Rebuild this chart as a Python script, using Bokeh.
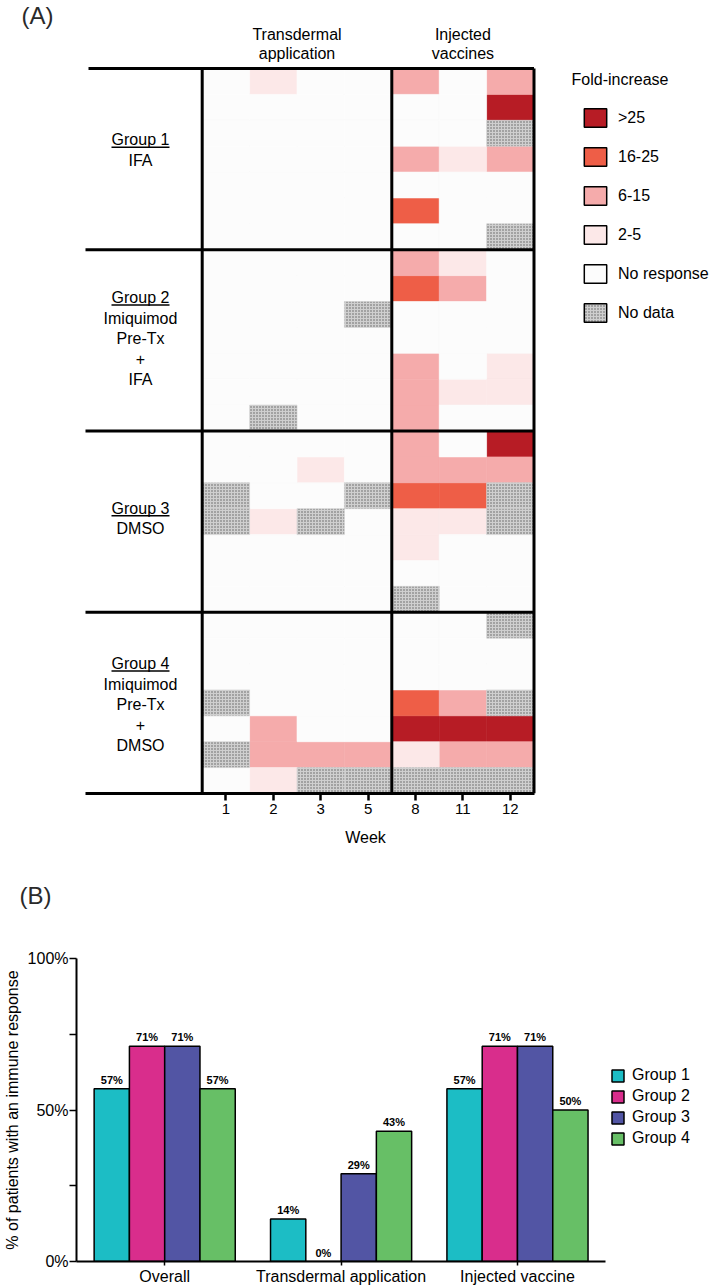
from bokeh.plotting import figure
from bokeh.models import (ColumnDataSource, Range1d, FixedTicker, LinearAxis,
                          Legend, LegendItem)
from bokeh.layouts import column
from bokeh.embed import file_html
from bokeh.resources import INLINE
from bokeh.core.properties import value
from bokeh.transform import dodge

FONT = "Liberation Sans"

# ---------------------------------------------------------------- data (A)
weeks = ["1", "2", "3", "5", "8", "11", "12"]
section_titles = [["Transdermal", "application"], ["Injected", "vaccines"]]
section_cols = [(0, 4), (4, 7)]          # column index spans of the two sections
levels = [">25", "16-25", "6-15", "2-5", "No response", "No data"]
level_colors = ["#B71C25", "#EE5E47", "#F5ABAB", "#FCE8E8", "#FCFCFC", "#CFCFCF"]
level_codes = [4, 3, 2, 1, 0, -1]        # -1 = no data
group_names = ["Group 1", "Group 2", "Group 3", "Group 4"]
group_treatments = [["IFA"],
                    ["Imiquimod", "Pre-Tx", "+", "IFA"],
                    ["DMSO"],
                    ["Imiquimod", "Pre-Tx", "+", "DMSO"]]

group1 = [[0, 1, 0, 0, 2, 0, 2],
          [0, 0, 0, 0, 0, 0, 4],
          [0, 0, 0, 0, 0, 0, -1],
          [0, 0, 0, 0, 2, 1, 2],
          [0, 0, 0, 0, 0, 0, 0],
          [0, 0, 0, 0, 3, 0, 0],
          [0, 0, 0, 0, 0, 0, -1]]
group2 = [[0, 0, 0, 0, 2, 1, 0],
          [0, 0, 0, 0, 3, 2, 0],
          [0, 0, 0, -1, 0, 0, 0],
          [0, 0, 0, 0, 0, 0, 0],
          [0, 0, 0, 0, 2, 0, 1],
          [0, 0, 0, 0, 2, 1, 1],
          [0, -1, 0, 0, 2, 0, 0]]
group3 = [[0, 0, 0, 0, 2, 0, 4],
          [0, 0, 1, 0, 2, 2, 2],
          [-1, 0, 0, -1, 3, 3, -1],
          [-1, 1, -1, 0, 1, 1, -1],
          [0, 0, 0, 0, 1, 0, 0],
          [0, 0, 0, 0, 0, 0, 0],
          [0, 0, 0, 0, -1, 0, 0]]
group4 = [[0, 0, 0, 0, 0, 0, -1],
          [0, 0, 0, 0, 0, 0, 0],
          [0, 0, 0, 0, 0, 0, 0],
          [-1, 0, 0, 0, 3, 2, -1],
          [0, 2, 0, 0, 4, 4, 4],
          [-1, 2, 2, 2, 1, 2, 2],
          [0, 1, -1, -1, -1, -1, -1]]
groups = [group1, group2, group3, group4]

# ---------------------------------------------------------------- data (B)
categories = ["Overall", "Transdermal application", "Injected vaccine"]
bar_groups = ["Group 1", "Group 2", "Group 3", "Group 4"]
bar_colors = ["#1CBDC5", "#D92D8C", "#5255A4", "#67BF66"]
pct_group1 = [57, 14, 57]
pct_group2 = [71, 0, 71]
pct_group3 = [71, 29, 71]
pct_group4 = [57, 43, 50]
pct_values = [pct_group1, pct_group2, pct_group3, pct_group4]
y_ticks = [0, 25, 50, 75, 100]
y_tick_labels = ["0%", "", "50%", "", "100%"]

# ================================================================ panel A
W = 710
HA = 856
FA_LEFT = 20                     # frame left (page px)
X0, Y0 = 201.7, 793.0            # page px of the heat-map bottom-left corner
COL_W = 47.4
n_rows = sum(len(g) for g in groups)
ROW_H = (Y0 - 68.0) / n_rows


def dx(px):
    return 0.5 + (px - X0) / COL_W


def dy(py):
    return (Y0 - py) / ROW_H


pA = figure(width=W, height=HA, output_backend="svg", toolbar_location=None,
            x_range=Range1d(dx(FA_LEFT), dx(W)), y_range=Range1d(0, dy(0)),
            x_axis_type=None, y_axis_type=None,
            min_border_left=FA_LEFT, min_border_right=0, min_border_top=0,
            min_border_bottom=HA - int(Y0))
pA.grid.visible = False
pA.outline_line_color = None

code_to_level = dict(zip(level_codes, levels))
cx, cy, clev = [], [], []
r_i = 0
for g in groups:
    for row in g:
        for c, v in enumerate(row):
            cx.append(c + 1)
            cy.append(n_rows - r_i - 0.5)
            clev.append(code_to_level[v])
        r_i += 1

legend_items = []
sources = []
for lev, col in zip(levels, level_colors):
    sel = [i for i, l in enumerate(clev) if l == lev]
    src = ColumnDataSource(dict(x=[cx[i] for i in sel], y=[cy[i] for i in sel]))
    sources.append(src)
    hatch = dict(hatch_pattern=".", hatch_color="#5e5e5e", hatch_scale=3,
                 hatch_weight=1.0) if lev == "No data" else {}
    # framed swatch for the legend, drawn small and hidden under the cells
    sw = pA.rect(x="x", y="y", width=0.4, height=0.4, source=src,
                 fill_color=col, line_color="black", line_width=1.5, **hatch)
    legend_items.append(LegendItem(label=lev, renderers=[sw]))

for lev, col, src in zip(levels, level_colors, sources):
    hatch = dict(hatch_pattern=".", hatch_color="#5e5e5e", hatch_scale=3,
                 hatch_weight=1.0) if lev == "No data" else {}
    pA.rect(x="x", y="y", width=1, height=1, source=src, fill_color=col,
            line_color=col, line_width=0.6, **hatch)

# structure lines
rows_per = [len(g) for g in groups]
h_y = []
acc = n_rows
for n in rows_per:
    h_y.append(acc)
    acc -= n
h_x0 = [dx(88)] + [dx(85)] * (len(h_y) - 1)
pA.segment(x0=h_x0, y0=h_y, x1=[len(weeks) + 0.5] * len(h_y), y1=h_y,
           line_color="black", line_width=3)
v_x = [section_cols[0][0] + 0.5, section_cols[1][0] + 0.5, section_cols[1][1] + 0.5]
pA.segment(x0=v_x, y0=[0] * 3, x1=v_x, y1=[n_rows] * 3,
           line_color="black", line_width=3)

# section titles
tx, ty, tt = [], [], []
for (a, b), lines in zip(section_cols, section_titles):
    for k, s in enumerate(lines):
        tx.append((a + b) / 2 + 0.5)
        ty.append(dy(34 + 19 * k))
        tt.append(s)
pA.text(x=tx, y=ty, text=tt, text_font=value(FONT), text_font_size="16px",
        text_align="center", text_baseline="middle", text_color="black")

# group labels
label_mid = [149.5, 338, 518, 704]
gx, gy, gt = [], [], []
ux0, ux1, uy = [], [], []
for name, treat, mid in zip(group_names, group_treatments, label_mid):
    lines = [name] + treat
    n = len(lines)
    for k, s in enumerate(lines):
        py = mid + (k - (n - 1) / 2) * 20.5
        gx.append(dx(140))
        gy.append(dy(py))
        gt.append(s)
        if k == 0:
            ux0.append(dx(140 - 29))
            ux1.append(dx(140 + 29))
            uy.append(dy(py + 7.5))
pA.text(x=gx, y=gy, text=gt, text_font=value(FONT), text_font_size="16px",
        text_align="center", text_baseline="middle", text_color="black")
pA.segment(x0=ux0, y0=uy, x1=ux1, y1=uy, line_color="black", line_width=1.3)

# panel letter + legend title
pA.text(x=[dx(21)], y=[dy(1)], text=["(A)"], text_font=value(FONT),
        text_font_size="24px", text_align="left", text_baseline="top",
        text_color="#2a2a2a")
pA.text(x=[dx(571)], y=[dy(79)], text=["Fold-increase"], text_font=value(FONT),
        text_font_size="16px", text_align="left", text_baseline="middle",
        text_color="black")

legA = Legend(items=legend_items, location=(581 - FA_LEFT, int(Y0) - 324),
              orientation="vertical",
              glyph_width=28, glyph_height=23, label_height=23, label_width=20,
              label_standoff=9, spacing=16, padding=0, margin=0,
              border_line_color=None, background_fill_alpha=0,
              label_text_font=FONT, label_text_font_size="16px",
              label_text_color="black", label_text_baseline="middle")
pA.add_layout(legA, "center")

xa = LinearAxis(ticker=FixedTicker(ticks=list(range(1, len(weeks) + 1))),
                major_label_overrides={i + 1: w for i, w in enumerate(weeks)},
                bounds=(dx(85), len(weeks) + 0.5),
                axis_line_width=3, axis_line_color="black",
                major_tick_in=0, major_tick_out=7, major_tick_line_width=2.5,
                major_tick_line_color="black",
                minor_tick_in=0, minor_tick_out=0,
                major_label_standoff=3, major_label_text_font=FONT,
                major_label_text_font_size="15px", major_label_text_color="black",
                axis_label="Week", axis_label_standoff=12,
                axis_label_text_font=FONT, axis_label_text_font_size="16px",
                axis_label_text_font_style="normal", axis_label_text_color="black")
pA.add_layout(xa, "below")

# ================================================================ "(B)" strip
HL = 60
pL = figure(width=W, height=HL, output_backend="svg", toolbar_location=None,
            x_range=Range1d(0, W), y_range=Range1d(0, HL),
            x_axis_type=None, y_axis_type=None,
            min_border_left=0, min_border_right=0, min_border_top=0,
            min_border_bottom=0)
pL.grid.visible = False
pL.outline_line_color = None
pL.text(x=[19], y=[HL - (895 - HA)], text=["(B)"], text_font=value(FONT),
        text_font_size="24px", text_align="left", text_baseline="middle",
        text_color="#2a2a2a")

# ================================================================ panel B
TOP_B = HA + HL
HB = 1287 - TOP_B
BX0 = 75                         # page x of y axis
SLOT = 176.67                    # px per category
BASE = 1262                      # page y of 0 %
Y100 = 958                       # page y of 100 %

pB = figure(width=W, height=HB, output_backend="svg", toolbar_location=None,
            x_range=Range1d(0.5, 0.5 + (W - BX0) / SLOT), y_range=Range1d(0, 100),
            min_border_left=BX0, min_border_right=0,
            min_border_top=Y100 - TOP_B, min_border_bottom=TOP_B + HB - BASE)
pB.grid.visible = False
pB.outline_line_color = None

for p in (pA, pL, pB):
    if "frame_align" in p.properties():
        p.frame_align = False

offsets = [-0.3, -0.1, 0.1, 0.3]
xcat = list(range(1, len(categories) + 1))
legB_items = []
for name, col, vals, off in zip(bar_groups, bar_colors, pct_values, offsets):
    src = ColumnDataSource(dict(x=xcat, top=vals, lab=[f"{v}%" for v in vals]))
    r = pB.vbar(x=dodge("x", off, range=pB.x_range), top="top", width=0.2,
                source=src, fill_color=col, line_color="black", line_width=1.5)
    pB.text(x=dodge("x", off, range=pB.x_range), y="top", text="lab", source=src,
            text_font=value(FONT), text_font_size="11px", text_font_style="bold",
            text_align="center", text_baseline="bottom", y_offset=-3,
            text_color="black")
    legB_items.append(LegendItem(label=name, renderers=[r]))

xb = pB.xaxis[0]
xb.ticker = FixedTicker(ticks=xcat)
xb.major_label_overrides = {i: c for i, c in zip(xcat, categories)}
xb.bounds = (0.5, len(categories) + 0.5)
xb.axis_line_width = 2
xb.axis_line_color = "black"
xb.major_tick_in = 0
xb.major_tick_out = 4
xb.major_tick_line_width = 1.5
xb.minor_tick_out = 0
xb.minor_tick_in = 0
xb.major_label_standoff = 2
xb.major_label_text_font = FONT
xb.major_label_text_font_size = "16px"
xb.major_label_text_color = "black"

yb = pB.yaxis[0]
yb.ticker = FixedTicker(ticks=y_ticks)
yb.major_label_overrides = dict(zip(y_ticks, y_tick_labels))
yb.bounds = (0, 100)
yb.axis_line_width = 2
yb.axis_line_color = "black"
yb.major_tick_in = 0
yb.major_tick_out = 7
yb.major_tick_line_width = 1.5
yb.minor_tick_out = 0
yb.minor_tick_in = 0
yb.major_label_standoff = 1
yb.major_label_text_font = FONT
yb.major_label_text_font_size = "16px"
yb.major_label_text_color = "black"
yb.axis_label = "% of patients with an immune response"
yb.axis_label_standoff = 4
yb.axis_label_text_font = FONT
yb.axis_label_text_font_size = "16px"
yb.axis_label_text_font_style = "normal"
yb.axis_label_text_color = "black"

legB = Legend(items=legB_items, location=(609 - BX0, BASE - 1148),
              orientation="vertical",
              glyph_width=15, glyph_height=15, label_height=15, label_width=20,
              label_standoff=7, spacing=3, padding=0, margin=0,
              border_line_color=None, background_fill_alpha=0,
              label_text_font=FONT, label_text_font_size="16px",
              label_text_color="black", label_text_baseline="middle")
pB.add_layout(legB, "center")

layout = column(pA, pL, pB)
with open("out.html", "w") as f:
    f.write(file_html(layout, INLINE))
